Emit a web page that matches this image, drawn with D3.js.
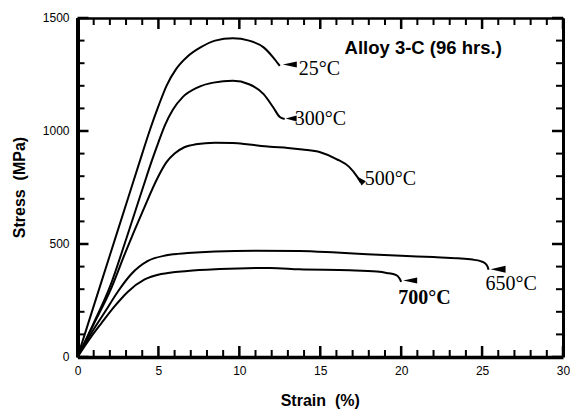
<!DOCTYPE html>
<html lang="en">
  <head>
    <meta charset="utf-8" />
    <title>Alloy 3-C stress-strain</title>
    <script src="https://d3js.org/d3.v7.min.js"></script>
    <style>
      body {
        margin: 0;
        background: white;
      }
      .tick text {
        font-family: "Liberation Sans", Arial, sans-serif;
        font-size: 12px;
        fill: black;
      }
      .axis-title {
        font-family: "Liberation Sans", Arial, sans-serif;
        font-size: 16px;
        font-weight: bold;
      }
      .temp {
        font-family: "Liberation Serif", "Times New Roman", serif;
        font-size: 20px;
      }
    </style>
  </head>
  <body>
    <svg width="570" height="410"></svg>
    <script type="text/javascript">
      // [strain %, stress MPa]
      const curve25C = [
        [0, 0], [1, 225], [2, 450], [3, 675], [4, 900], [4.5, 1010],
        [5.0, 1110], [5.5, 1200], [6.1, 1275], [6.8, 1330], [7.6, 1370],
        [8.5, 1400], [9.6, 1410], [10.6, 1400], [11.5, 1370], [12.1, 1325],
        [12.5, 1288],
      ];
      const curve300C = [
        [0, 0], [1, 150], [2, 310], [3, 520], [4, 740], [4.6, 870],
        [5, 950], [5.4, 1025], [5.9, 1095], [6.5, 1150], [7.4, 1192],
        [8.4, 1214], [9.6, 1222], [10.6, 1207], [11.5, 1163], [12.1, 1104],
        [12.5, 1062], [12.8, 1053],
      ];
      const curve500C = [
        [0, 0], [1, 145], [2, 290], [3, 470], [4, 640], [5, 800],
        [5.5, 862], [6, 900], [6.6, 928], [7.3, 941], [8.5, 948], [9.6, 947],
        [10.6, 940], [11.9, 930], [13.0, 925], [13.9, 918], [15.0, 906],
        [16.0, 876], [16.8, 840], [17.3, 796], [17.5, 773],
      ];
      const curve650C = [
        [0, 0], [0.85, 105], [1.7, 200], [2.5, 290], [3.3, 365], [4.35, 425],
        [5.5, 450], [6.8, 460], [8.5, 467], [11, 470], [13.7, 469], [16, 462],
        [17.9, 455], [20, 448], [22, 442], [23.5, 437], [24.4, 431],
        [24.9, 424], [25.2, 414], [25.35, 398], [25.4, 386],
      ];
      const curve700C = [
        [0, 0], [0.85, 90], [1.47, 149], [2.3, 225], [3.1, 288], [4.15, 343],
        [5.17, 367], [6.8, 381], [8.8, 389], [11.9, 394], [13.7, 388],
        [16.8, 384], [18.5, 378], [19.1, 372], [19.7, 362], [19.9, 347],
        [20.0, 332],
      ];
      const curves = [curve25C, curve300C, curve500C, curve650C, curve700C];
      const tempLabels = ["25°C", "300°C", "500°C", "650°C", "700°C"];
      const xTicks = [0, 5, 10, 15, 20, 25, 30];
      const yTicks = [0, 500, 1000, 1500];
      const xMinor = d3.range(0, 31, 1);
      const yMinor = d3.range(0, 1501, 100);

      const svg = d3.select("svg"),
        margin = { top: 18, right: 7, bottom: 53, left: 77.5 },
        W = +svg.attr("width"),
        H = +svg.attr("height");

      // scales in absolute svg pixels
      const x = d3.scaleLinear().domain([0, 30]).range([margin.left, W - margin.right]);
      const y = d3.scaleLinear().domain([0, 1500]).range([H - margin.bottom, margin.top]);
      const x0 = x(0), x1 = x(30), y0 = y(0), y1 = y(1500);

      // axes: labels + frame
      const xAxis = svg
        .append("g")
        .attr("transform", "translate(0," + y0 + ")")
        .call(d3.axisBottom(x).tickValues(xTicks).tickSize(0).tickPadding(9));
      const xTop = svg
        .append("g")
        .attr("transform", "translate(0," + y1 + ")")
        .call(d3.axisTop(x).tickValues([]).tickSize(0));
      const yAxis = svg
        .append("g")
        .attr("transform", "translate(" + x0 + ",0)")
        .call(
          d3.axisLeft(y).tickValues(yTicks).tickSize(0).tickPadding(8).tickFormat(d3.format("d"))
        );
      const yRight = svg
        .append("g")
        .attr("transform", "translate(" + x1 + ",0)")
        .call(d3.axisRight(y).tickValues([]).tickSize(0));

      svg.selectAll(".domain").attr("stroke", "black");
      xAxis.select(".domain").attr("stroke-width", 3.5);
      yAxis.select(".domain").attr("stroke-width", 4);
      xTop.select(".domain").attr("stroke-width", 2.5);
      yRight.select(".domain").attr("stroke-width", 3);

      // curves
      const line = d3
        .line()
        .x((d) => x(d[0]))
        .y((d) => y(d[1]))
        .curve(d3.curveMonotoneX);

      svg.append("g")
        .selectAll("path")
        .data(curves)
        .enter()
        .append("path")
        .attr("d", line)
        .attr("fill", "none")
        .attr("stroke", "black")
        .attr("stroke-width", 2);

      // arrow + label at each curve's fracture point
      // offsets in px relative to the last point: arrow tip, arrow base, text
      const marks = [
        { tip: [3, -1.5], base: [17, -1.5], hw: 3, text: [19, 9] },
        { tip: [1, -0.5], base: [12, -0.5], hw: 3, text: [10, 6] },
        { tip: [-4, -6], base: [3, 1], hw: 3, text: [4, 2.5] },
        { tip: [2, -0.5], base: [17, -0.5], hw: 3.5, text: [-3, 20] },
        { tip: [2, -1.5], base: [16, -1.5], hw: 3, text: [-3, 22] },
      ];

      curves.forEach((c, i) => {
        const end = c[c.length - 1];
        const ex = x(end[0]),
          ey = y(end[1]);
        const m = marks[i];
        const tx = ex + m.tip[0],
          ty = ey + m.tip[1],
          bx = ex + m.base[0],
          by = ey + m.base[1];
        const len = Math.hypot(bx - tx, by - ty);
        const nx = -(by - ty) / len,
          ny = (bx - tx) / len;
        svg.append("path")
          .attr(
            "d",
            d3.line()([
              [tx, ty],
              [bx + nx * m.hw, by + ny * m.hw],
              [bx - nx * m.hw, by - ny * m.hw],
            ]) + "Z"
          )
          .attr("fill", "black");
        svg.append("text")
          .attr("class", "temp")
          .attr("x", ex + m.text[0])
          .attr("y", ey + m.text[1])
          .attr("font-size", i == 4 ? "26px" : null)
          .attr("font-weight", i == 4 ? "bold" : null)
          .text(tempLabels[i]);
      });

      // titles
      svg.append("text")
        .attr("x", x(16.5))
        .attr("y", y(1340))
        .text("Alloy 3-C (96 hrs.)")
        .attr("font-family", "Liberation Sans, Arial, sans-serif")
        .attr("font-weight", "bold")
        .attr("font-size", "18.5px");

      svg.append("text")
        .attr("class", "axis-title")
        .attr("x", (x0 + x1) / 2)
        .attr("y", y0 + 49)
        .attr("text-anchor", "middle")
        .attr("xml:space", "preserve")
        .text("Strain  (%)");

      svg.append("text")
        .attr("class", "axis-title")
        .attr("transform", "translate(25," + y(750) + ") rotate(-90)")
        .attr("text-anchor", "middle")
        .attr("xml:space", "preserve")
        .text("Stress  (MPa)");

      // inward tick marks on all four sides, drawn last so nothing covers them
      const tickLen = (major) => (major ? 11 : 7);
      const tickW = (major) => (major ? 2.5 : 2);
      const isMx = (d) => d % 5 === 0;
      const isMy = (d) => d % 500 === 0;
      const tg = svg.append("g").attr("fill", "black");
      tg.selectAll(".tb").data(xMinor).enter().append("rect").attr("class", "tb")
        .attr("x", (d) => x(d) - tickW(isMx(d)) / 2).attr("y", (d) => y0 - tickLen(isMx(d)))
        .attr("width", (d) => tickW(isMx(d))).attr("height", (d) => tickLen(isMx(d)));
      tg.selectAll(".tt").data(xMinor).enter().append("rect").attr("class", "tt")
        .attr("x", (d) => x(d) - tickW(isMx(d)) / 2).attr("y", y1)
        .attr("width", (d) => tickW(isMx(d))).attr("height", (d) => tickLen(isMx(d)));
      tg.selectAll(".tl").data(yMinor).enter().append("rect").attr("class", "tl")
        .attr("x", x0).attr("y", (d) => y(d) - tickW(isMy(d)) / 2)
        .attr("width", (d) => tickLen(isMy(d))).attr("height", (d) => tickW(isMy(d)));
      tg.selectAll(".tr").data(yMinor).enter().append("rect").attr("class", "tr")
        .attr("x", (d) => x1 - tickLen(isMy(d))).attr("y", (d) => y(d) - tickW(isMy(d)) / 2)
        .attr("width", (d) => tickLen(isMy(d))).attr("height", (d) => tickW(isMy(d)));
    </script>
  </body>
</html>
